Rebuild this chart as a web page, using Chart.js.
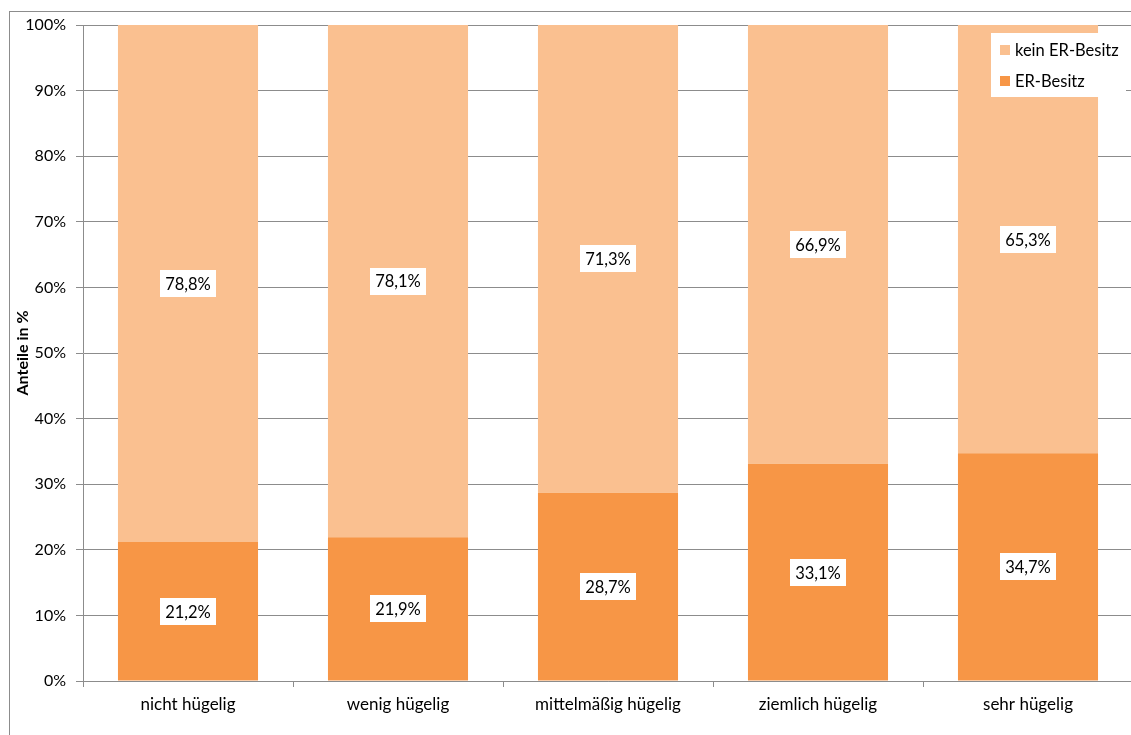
<!DOCTYPE html>
<html>
<head>
<meta charset="utf-8">
<script src="https://cdn.jsdelivr.net/npm/chart.js@4/dist/chart.umd.min.js"></script>
<style>
  html, body { margin: 0; padding: 0; background: #fff; overflow: hidden; }
  #wrap { position: absolute; left: 0; top: 0; width: 1145px; height: 735px; }
</style>
</head>
<body>
<div id="wrap"><canvas id="chart"></canvas></div>
<script>
const categories = ['nicht hügelig', 'wenig hügelig', 'mittelmäßig hügelig', 'ziemlich hügelig', 'sehr hügelig'];
const erBesitz = [21.2, 21.9, 28.7, 33.1, 34.7];
const keinErBesitz = [78.8, 78.1, 71.3, 66.9, 65.3];
const yTicks = [0, 10, 20, 30, 40, 50, 60, 70, 80, 90, 100];

const FONT = 'Lato, "Open Sans", sans-serif';
const fmt = v => v.toFixed(1).replace('.', ',') + '%';

// outer frame of the chart object
const framePlugin = {
  id: 'frame',
  beforeDraw(chart) {
    const ctx = chart.ctx;
    ctx.save();
    ctx.strokeStyle = '#8c8c8c';
    ctx.lineWidth = 1;
    ctx.strokeRect(9.5, 11.5, 3000, 3000);
    ctx.restore();
  }
};

// white boxes with the value of each segment
const valueLabels = {
  id: 'valueLabels',
  afterDatasetsDraw(chart) {
    const ctx = chart.ctx;
    ctx.save();
    ctx.font = '16.5px ' + FONT;
    ctx.textAlign = 'center';
    ctx.textBaseline = 'middle';
    chart.data.datasets.forEach((ds, i) => {
      chart.getDatasetMeta(i).data.forEach((bar, j) => {
        const { x, y, base } = bar.getProps(['x', 'y', 'base'], true);
        const cy = (y + base) / 2;
        const txt = fmt(ds.data[j]);
        const w = ctx.measureText(txt).width + 10;
        const h = 27;
        ctx.fillStyle = '#fff';
        ctx.fillRect(Math.round(x - w / 2), Math.round(cy - h / 2), Math.round(w), h);
        ctx.fillStyle = '#000';
        ctx.fillText(txt, x, cy + 1);
      });
    });
    ctx.restore();
  }
};

// legend box inside the plot, top right
const boxLegend = {
  id: 'boxLegend',
  afterDraw(chart) {
    const ctx = chart.ctx;
    const items = chart.data.datasets.slice().reverse();
    ctx.save();
    ctx.fillStyle = '#fff';
    ctx.fillRect(991, 33, 135, 64);
    ctx.font = '16.5px ' + FONT;
    ctx.textBaseline = 'middle';
    ctx.textAlign = 'left';
    items.forEach((ds, k) => {
      const cy = 50 + k * 31;
      ctx.fillStyle = ds.backgroundColor;
      ctx.fillRect(1000, cy - 5, 10, 10);
      ctx.fillStyle = '#000';
      ctx.fillText(ds.label, 1015, cy + 1);
    });
    ctx.restore();
  }
};

new Chart(document.getElementById('chart'), {
  type: 'bar',
  data: {
    labels: categories,
    datasets: [
      { label: 'ER-Besitz', data: erBesitz, backgroundColor: '#F79646' },
      { label: 'kein ER-Besitz', data: keinErBesitz, backgroundColor: '#FAC090' }
    ]
  },
  options: {
    responsive: true,
    maintainAspectRatio: false,
    animation: false,
    layout: { padding: { top: 25, right: 12, bottom: 0, left: 0 } },
    plugins: {
      legend: { display: false },
      tooltip: { enabled: false }
    },
    datasets: {
      bar: { categoryPercentage: 1, barPercentage: 0.667 }
    },
    scales: {
      x: {
        stacked: true,
        grid: { display: true, drawOnChartArea: false, drawTicks: true, tickLength: 6, color: '#8c8c8c', offset: true },
        border: { color: '#8c8c8c' },
        ticks: { color: '#000', font: { family: FONT, size: 17 }, padding: 7, maxRotation: 0 },
        afterFit: s => { s.height = 735 - 681; }
      },
      y: {
        stacked: true,
        min: 0,
        max: 100,
        afterBuildTicks: s => { s.ticks = yTicks.map(v => ({ value: v })); },
        grid: { color: '#8c8c8c', tickLength: 7 },
        border: { color: '#8c8c8c' },
        ticks: { color: '#000', font: { family: FONT, size: 16 }, padding: 10, callback: v => v + '%' },
        title: { display: true, text: 'Anteile in %', color: '#000', font: { family: FONT, size: 16, weight: 'bold' }, padding: { top: 13, bottom: 0 } },
        afterFit: s => { s.width = 83; }
      }
    }
  },
  plugins: [framePlugin, valueLabels, boxLegend]
});
</script>
</body>
</html>
